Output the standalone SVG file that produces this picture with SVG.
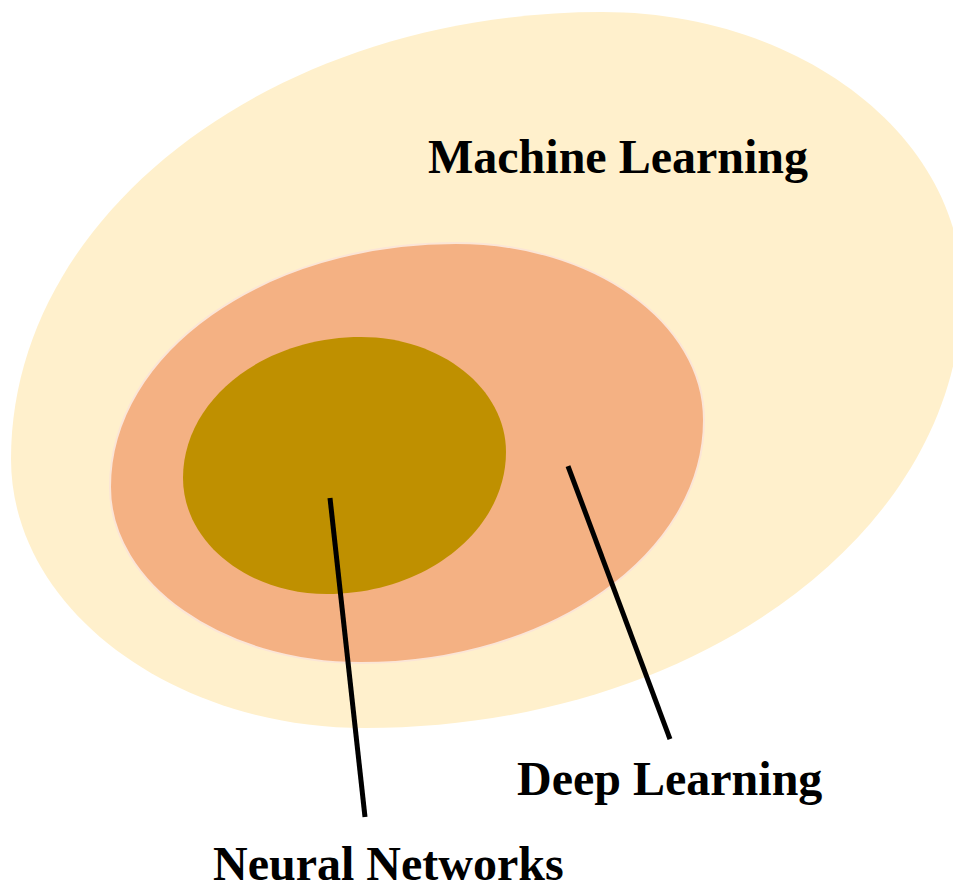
<svg xmlns="http://www.w3.org/2000/svg" width="953" height="889" viewBox="0 0 953 889">
<style>
.lbl{font-family:"Liberation Serif","Times New Roman",serif;font-weight:bold;font-size:48px;fill:#000}
.conn{stroke:#000;stroke-width:5;fill:none}
</style>
<rect width="953" height="889" fill="#fff"/>
<g id="machine-learning">
<path d="M602,12 C801,12 962,137 962,290 C962,532 695,728 365,728 C170,728 11,607 11,459 C11,212 276,12 602,12 Z" fill="#fff0cc"/>
<text class="lbl" x="428" y="173">Machine Learning</text>
</g>
<g id="deep-learning">
<path d="M456,243 C593,243 704,322 704,420 C704,554 550,663 361,663 C222.5,663 110,584 110,487 C110,352 265,243 456,243 Z" fill="#f4b183" stroke="#fbe5d6" stroke-width="2"/>
<text class="lbl" x="517" y="795">Deep Learning</text>
</g>
<g id="neural-networks">
<path d="M361,337 C441,337 506,388.5 506,452 C506,530 426,594 327,594 C247.5,594 183,542 183,478 C183,400 263,337 361,337 Z" fill="#bf9000"/>
<text class="lbl" x="213" y="880">Neural Networks</text>
</g>
<g id="connectors">
<line class="conn" x1="330" y1="498" x2="365" y2="817"/>
<line class="conn" x1="568" y1="466" x2="670" y2="739"/>
</g>
</svg>
